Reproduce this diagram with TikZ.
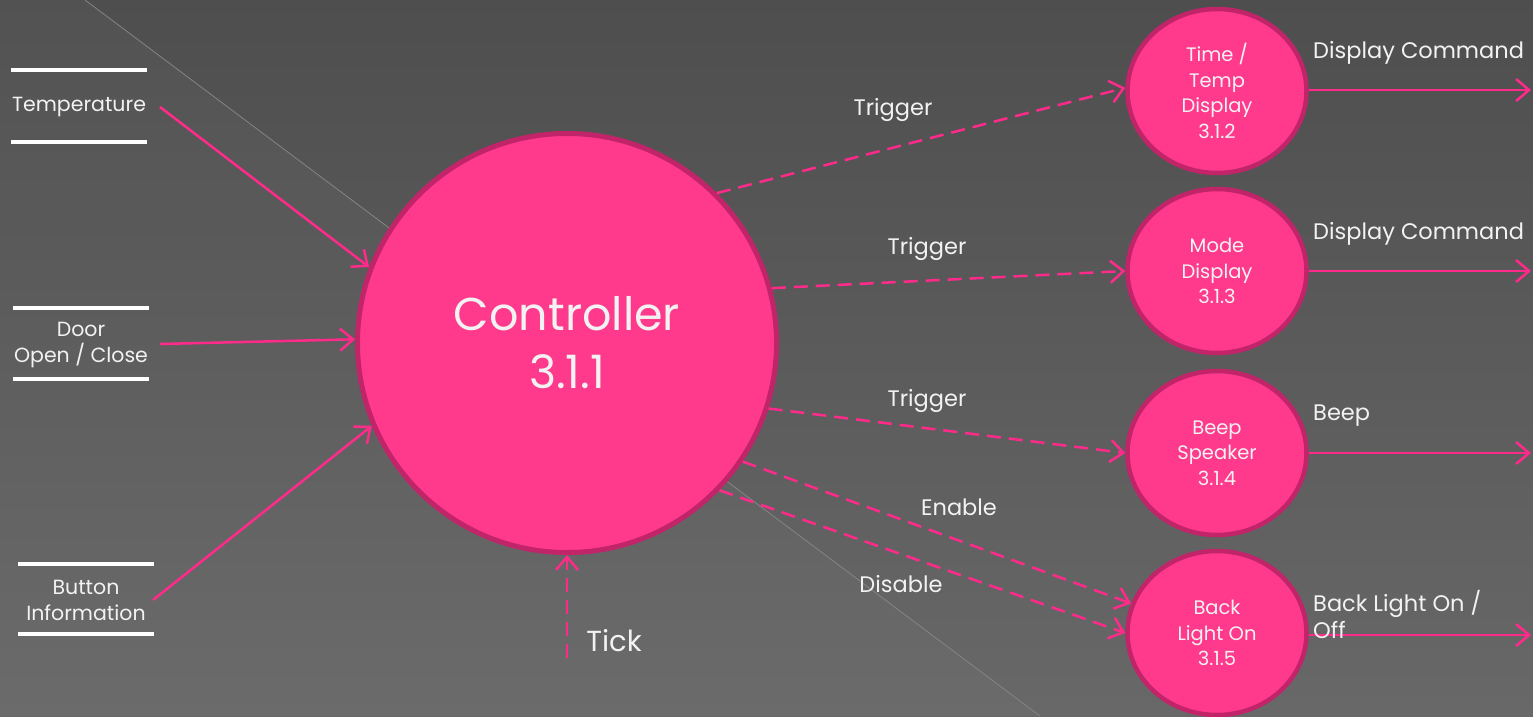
\documentclass[tikz,border=0pt]{standalone}
\usepackage{fontspec}
\setmainfont{Poppins}
\usetikzlibrary{arrows.meta,shapes.geometric}
\definecolor{bgtop}{HTML}{4E4E4E}
\definecolor{bgbot}{HTML}{686868}
\definecolor{pinkfill}{HTML}{FF3A8C}
\definecolor{pinkedge}{HTML}{C2246A}
\definecolor{flow}{HTML}{FF2A8A}
\definecolor{txt}{HTML}{F2F2F2}
\definecolor{diag}{HTML}{858585}
\begin{document}
\begin{tikzpicture}[x=1pt,y=-1pt,
  proc/.style={circle, fill=pinkfill, draw=pinkedge, line width=5pt, inner sep=0pt,
    minimum size=419pt, text=txt, align=center, font=\fontsize{46}{58}\selectfont},
  sub/.style={ellipse, fill=pinkfill, draw=pinkedge, line width=4.5pt, inner sep=0pt,
    minimum width=179pt, minimum height=164pt, text=txt, align=center,
    font=\fontsize{19.5}{25.5}\selectfont},
  flowline/.style={draw=flow, line width=2.5pt, -{Straight Barb[length=13pt,width=22pt]}},
  dflow/.style={flowline, dash pattern=on 14pt off 8pt},
  lbl/.style={text=txt, inner sep=0pt, font=\fontsize{22.5}{27}\selectfont},
  store/.style={text=txt, inner sep=0pt, align=center, font=\fontsize{20.5}{26}\selectfont},
  storeline/.style={draw=white, line width=4pt}
]
\useasboundingbox (0,0) rectangle (1533,716);
\shade[top color=bgtop, bottom color=bgbot] (0,0) rectangle (1533,716);
\fill[white, opacity=0.025] (0,0) -- (85,0) -- (1040,716) -- (0,716) -- cycle;
\draw[diag, line width=0.8pt] (85,0) -- (1040,716);

% data stores
\node[store] (temp) at (79,107) {Temperature};
\draw[storeline] (11,70) -- (147,70);
\draw[storeline] (11,142) -- (147,142);
\node[store] (door) at (81,345) {Door\\Open / Close};
\draw[storeline] (13,308) -- (149,308);
\draw[storeline] (13,379) -- (149,379);
\node[store] (btn) at (86,600) {Button\\Information};
\draw[storeline] (18,564) -- (154,564);
\draw[storeline] (18,634) -- (154,634);

% processes
\node[proc] (ctrl) at (567,343) {Controller\\3.1.1};
\node[sub] (p2) at (1217,91) {Time /\\Temp\\Display\\3.1.2};
\node[sub] (p3) at (1217,271) {Mode\\Display\\3.1.3};
\node[sub] (p4) at (1217,453) {Beep\\Speaker\\3.1.4};
\node[sub] (p5) at (1217,633) {Back\\Light On\\3.1.5};

% inputs
\draw[flowline] (160,107) -- (ctrl.159);
\draw[flowline] (160,344) -- (ctrl.179);
\draw[flowline] (153,600) -- (ctrl.203);
\coordinate (tickc) at (567,658);
\draw[dflow] (tickc) -- (ctrl.south);
\node[text=txt, inner sep=0pt, font=\fontsize{29}{34}\selectfont] (tick) at (614,641) {Tick};

% triggers
\draw[dflow] (ctrl.45) -- (p2.178);
\draw[dflow] (ctrl.15) -- (p3.180);
\draw[dflow] (ctrl.342) -- (p4.180);
\draw[dflow] (ctrl.326) -- (p5.161);
\draw[dflow] (ctrl.316) -- (p5.180);
\node[lbl] (t1) at (893,110) {Trigger};
\node[lbl] (t2) at (927,249) {Trigger};
\node[lbl] (t3) at (927,401) {Trigger};
\node[lbl] (en) at (959,507) {Enable};
\node[lbl] (dis) at (901,584) {Disable};

% outputs
\coordinate (o2) at (1531,90);
\coordinate (o3) at (1531,271);
\coordinate (o4) at (1531,453);
\coordinate (o5) at (1531,635);
\draw[flowline] (p2.east |- o2) -- (o2);
\draw[flowline] (p3.east |- o3) -- (o3);
\draw[flowline] (p4.east |- o4) -- (o4);
\draw[flowline] (p5.east |- o5) -- (o5);
\node[lbl, anchor=west] (l2) at (1313,53) {Display Command};
\node[lbl, anchor=west] (l3) at (1313,234) {Display Command};
\node[lbl, anchor=west] (l4) at (1313,416) {Beep};
\node[lbl, anchor=west, align=left] (l5) at (1313,614) {Back Light On /\\Off};
\end{tikzpicture}
\end{document}
